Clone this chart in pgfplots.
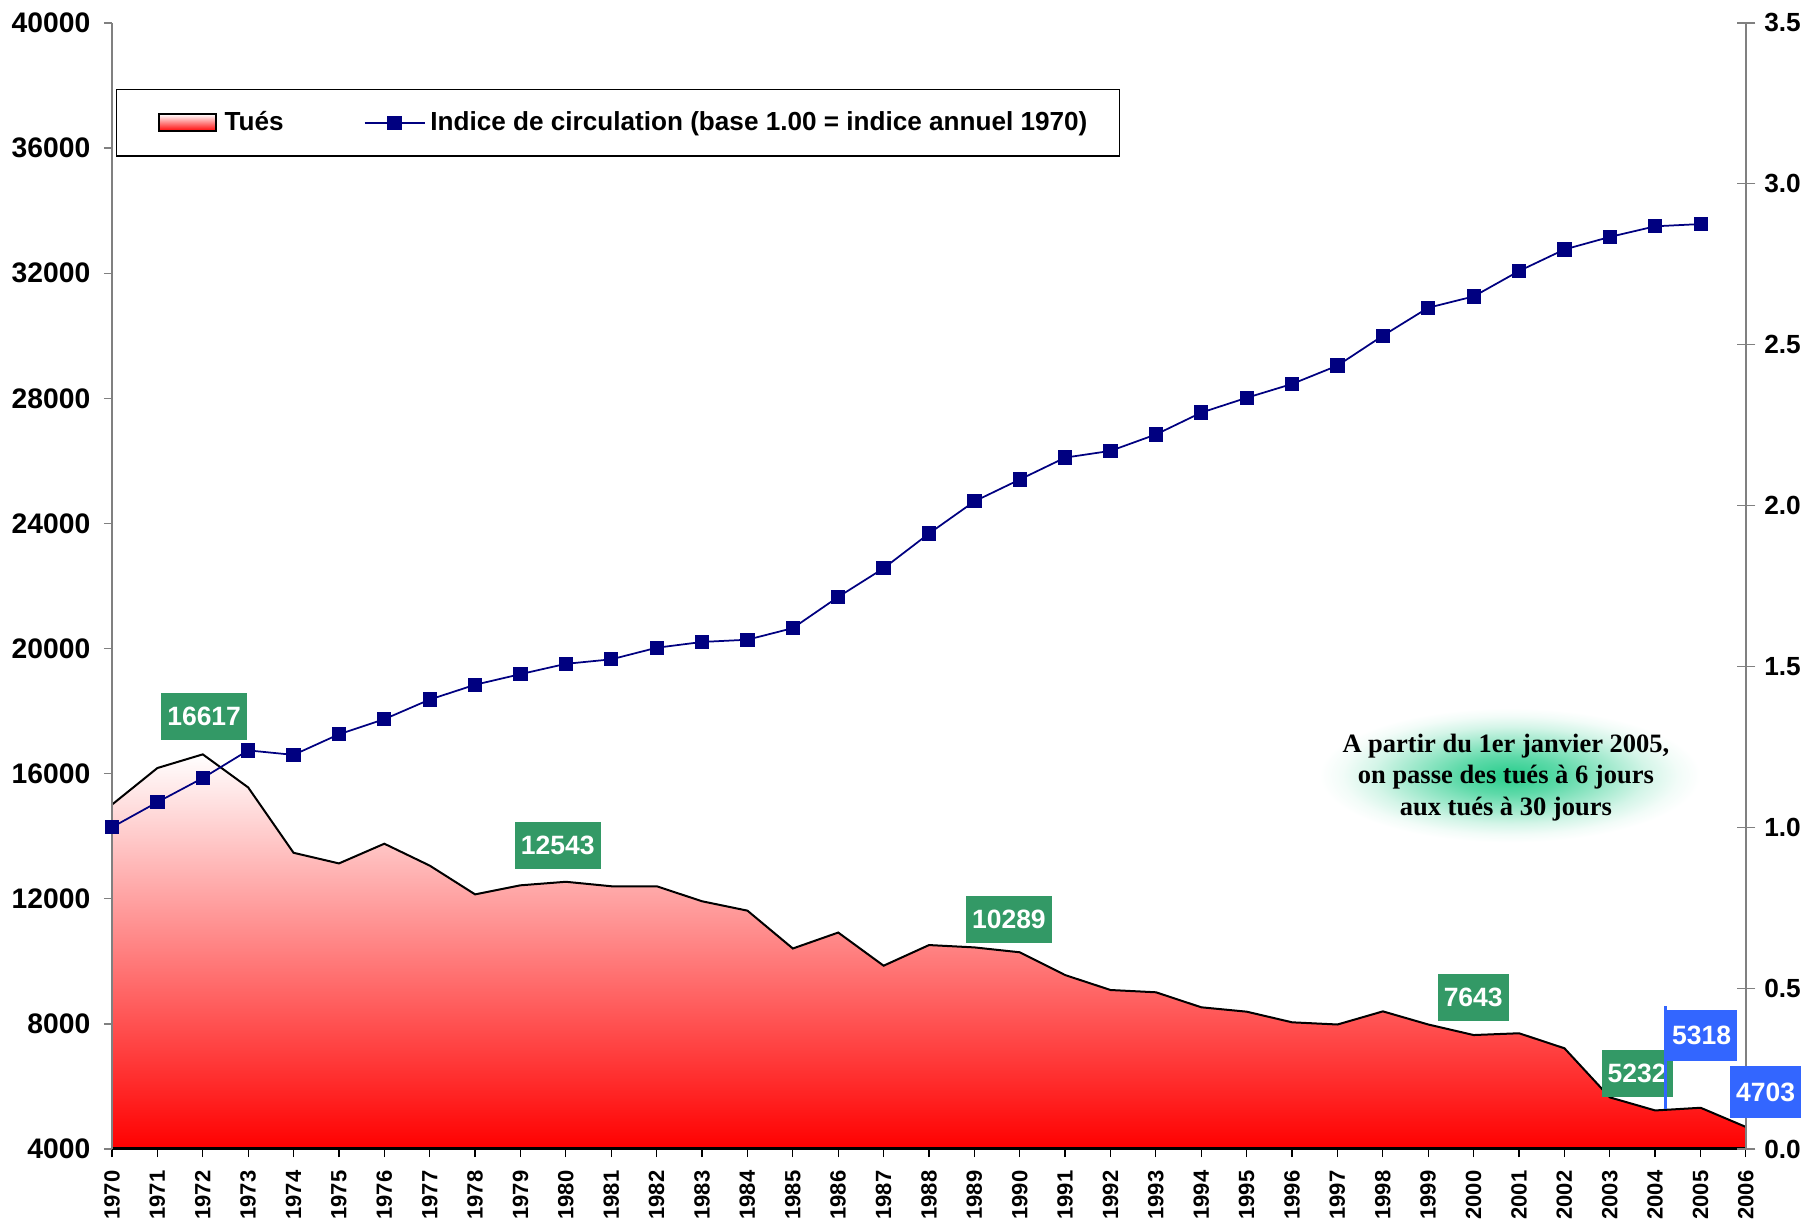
\documentclass[border=0pt]{standalone}
\usepackage{fontspec}
\setmainfont{Liberation Sans}
\newfontfamily\timesf{Liberation Serif}
\usepackage{pgfplots}
\pgfplotsset{compat=1.18}
\definecolor{navyc}{RGB}{0,0,128}
\definecolor{boxg}{RGB}{51,153,102}
\definecolor{boxb}{RGB}{51,102,255}
\definecolor{glowc}{RGB}{40,205,140}
\colorlet{glowa}{glowc!75!white}
\colorlet{glowm}{glowc!45!white}
\colorlet{glowl}{glowc!20!white}
\colorlet{glowx}{glowc!6!white}
\pgfdeclareradialshading{glow}{\pgfpoint{0bp}{0bp}}{color(0bp)=(glowc); color(7bp)=(glowa); color(13bp)=(glowm); color(18bp)=(glowl); color(22bp)=(glowx); color(25bp)=(white); color(50bp)=(white)}
\tikzset{
  gbox/.style={fill=boxg, text=white, font=\bfseries\fontsize{10.6}{12}\selectfont, minimum height=18.9pt, inner xsep=2.4pt, inner ysep=0pt},
  bbox/.style={fill=boxb, text=white, font=\bfseries\fontsize{10.6}{12}\selectfont, minimum height=20.7pt, inner xsep=2.3pt, inner ysep=0pt}
}
\begin{document}
\begin{tikzpicture}
\useasboundingbox (0,0) rectangle (722.8pt,488.8pt);
\begin{axis}[
  at={(44.8pt,29.2pt)}, anchor=south west,
  scale only axis, width=653.6pt, height=450.4pt,
  xmin=1970, xmax=2006, ymin=4000, ymax=40000,
  axis x line*=bottom, axis y line*=left,
  x axis line style={black, line width=1.2pt},
  y axis line style={gray, line width=0.5pt},
  xtick={1970,...,2006}, ytick={4000,8000,...,40000},
  scaled y ticks=false,
  tick align=outside, major tick length=3.3pt,
  y tick style={gray, line width=0.5pt},
  x tick style={black, line width=0.5pt},
  /pgf/number format/assume math mode=true,
  /pgf/number format/1000 sep={},
  xticklabel style={rotate=90, anchor=east, font=\bfseries\fontsize{8.8}{10}\selectfont, inner xsep=5.2pt, inner ysep=2pt},
  yticklabel style={font=\bfseries\fontsize{11.3}{12}\selectfont, inner xsep=5.2pt, inner ysep=2pt},
  axis on top,
  clip=false,
]
\addplot[draw=none, top color=white, bottom color=red, forget plot] coordinates {
(1970,15010) (1971,16180) (1972,16617) (1973,15560) (1974,13470) (1975,13130)
(1976,13760) (1977,13060) (1978,12140) (1979,12430) (1980,12543) (1981,12400)
(1982,12400) (1983,11920) (1984,11620) (1985,10410) (1986,10920) (1987,9860)
(1988,10520) (1989,10445) (1990,10289) (1991,9560) (1992,9083) (1993,9010)
(1994,8530) (1995,8390) (1996,8050) (1997,7980) (1998,8400) (1999,7980)
(2000,7643) (2001,7700) (2002,7220) (2003,5650) (2004,5232) (2005,5318) (2006,4703)
} \closedcycle;
\addplot[black, line width=0.8pt, forget plot] coordinates {
(1970,15010) (1971,16180) (1972,16617) (1973,15560) (1974,13470) (1975,13130)
(1976,13760) (1977,13060) (1978,12140) (1979,12430) (1980,12543) (1981,12400)
(1982,12400) (1983,11920) (1984,11620) (1985,10410) (1986,10920) (1987,9860)
(1988,10520) (1989,10445) (1990,10289) (1991,9560) (1992,9083) (1993,9010)
(1994,8530) (1995,8390) (1996,8050) (1997,7980) (1998,8400) (1999,7980)
(2000,7643) (2001,7700) (2002,7220) (2003,5650) (2004,5232) (2005,5318) (2006,4703)
};
\shade[shading=glow] (axis cs:1996.6,18100) rectangle (axis cs:2005.0,13800);
\node[align=center, font=\timesf\bfseries\fontsize{10.6}{12.7}\selectfont] at (axis cs:2000.71,15880)
  {A partir du 1er janvier 2005,\\on passe des tués à 6 jours\\aux tués à 30 jours};
\node[gbox] at (axis cs:1972.03,17837) {16617};
\node[gbox] at (axis cs:1979.82,13692) {12543};
\node[gbox] at (axis cs:1989.76,11333) {10289};
\node[gbox] at (axis cs:1999.99,8846) {7643};
\node[gbox] at (axis cs:2003.6,6414) {5232};
\end{axis}
\begin{axis}[
  at={(44.8pt,29.2pt)}, anchor=south west,
  scale only axis, width=653.6pt, height=450.4pt,
  xmin=1970, xmax=2006, ymin=0, ymax=3.5,
  axis x line=none, axis y line*=right,
  y axis line style={gray, line width=0.5pt},
  ytick={0,0.5,1,1.5,2,2.5,3,3.5},
  tick align=center, major tick length=7.4pt,
  y tick style={gray, line width=0.5pt},
  /pgf/number format/assume math mode=true,
  yticklabel style={font=\bfseries\fontsize{10.5}{12}\selectfont, inner sep=3.4pt,
    /pgf/number format/.cd, fixed, fixed zerofill, precision=1},
  clip=false,
  legend style={at={(0.00245,0.9414)}, anchor=north west, draw=black, line width=0.5pt,
    font=\bfseries\fontsize{10.45}{12}\selectfont, inner xsep=10.8pt, inner ysep=6.7pt,
    /tikz/every even column/.append style={column sep=30pt}},
  legend columns=2, legend cell align=left,
]
\addlegendimage{legend image code/.code={\path[draw=none,fill=none] (0pt,0pt) -- (30.4pt,0pt); \draw[top color=white, bottom color=red, draw=black, line width=0.8pt] (6pt,-3.4pt) rectangle (29pt,3.4pt);}}
\addlegendentry{Tués}
\addplot[navyc, line width=0.7pt, mark=square*, mark size=2.5pt,
  legend image code/.code={\draw[navyc,line width=0.7pt] (0pt,0pt)--(24pt,0pt); \fill[navyc] (9.5pt,-2.5pt) rectangle (14.5pt,2.5pt);}]
 coordinates {
(1970,1.000) (1971,1.078) (1972,1.153) (1973,1.239) (1974,1.225) (1975,1.289)
(1976,1.336) (1977,1.397) (1978,1.443) (1979,1.476) (1980,1.508) (1981,1.522)
(1982,1.558) (1983,1.576) (1984,1.583) (1985,1.619) (1986,1.716) (1987,1.805)
(1988,1.913) (1989,2.013) (1990,2.081) (1991,2.149) (1992,2.170) (1993,2.221)
(1994,2.289) (1995,2.335) (1996,2.378) (1997,2.435) (1998,2.528) (1999,2.615)
(2000,2.650) (2001,2.729) (2002,2.796) (2003,2.835) (2004,2.868) (2005,2.875)
};
\addlegendentry{Indice de circulation (base 1.00 = indice annuel 1970)}
\draw[boxb, line width=1.3pt] (axis cs:2004.22,0.4442) -- (axis cs:2004.22,0.1254);
\node[bbox] at (axis cs:2005.02,0.3529) {5318};
\node[bbox] at (axis cs:2006.43,0.1773) {4703};
\end{axis}
\end{tikzpicture}
\end{document}
